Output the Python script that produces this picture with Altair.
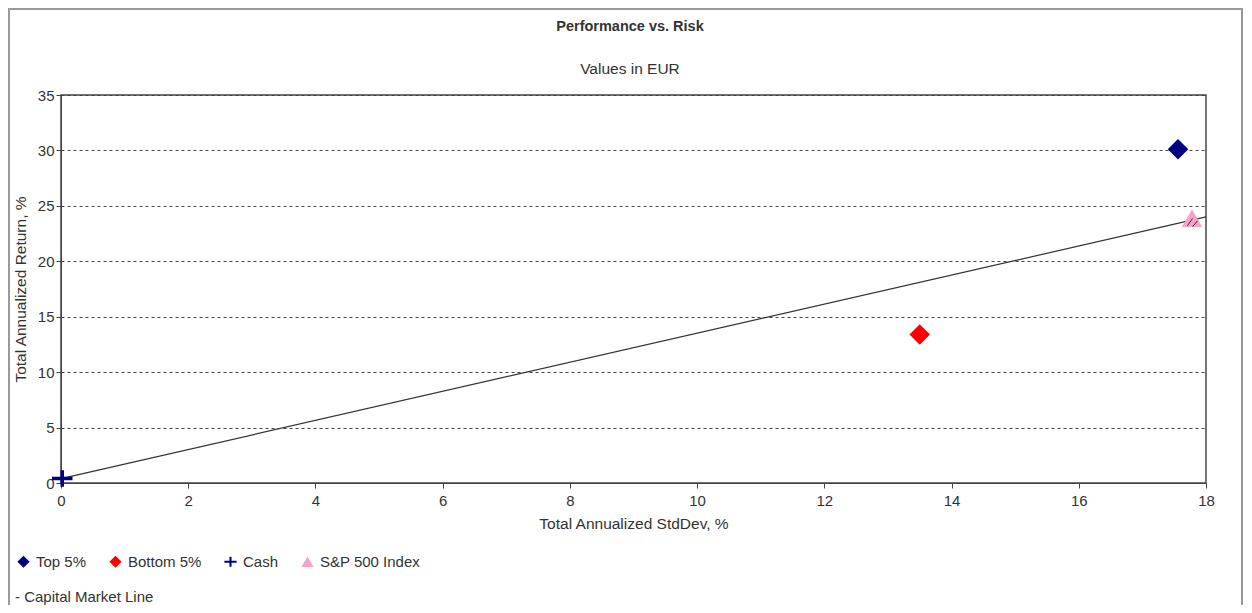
import altair as alt
import pandas as pd

# ---- data ----
series = ["Top 5%", "Bottom 5%", "Cash", "S&P 500 Index"]
stddev = [17.56, 13.5, 0.02, 17.78]
returns = [30.1, 13.4, 0.4, 23.9]

cml_x = [0.0, 18.0]
cml_y = [0.4, 24.0]

chart_title = "Performance vs. Risk"
chart_subtitle = "Values in EUR"
cml_label = "- Capital Market Line"

colors = ["#000080", "#ff0000", "#000080", "#f7a3c9"]
plus_path = "M-1,-0.17H1V0.17H-1Z M-0.17,-0.8H0.17V0.8H-0.17Z"
shapes = ["diamond", "diamond", plus_path, "triangle-up"]

x_ticks = list(range(0, 19, 2))
y_ticks = list(range(0, 36, 5))

FONT = "Liberation Sans"
TXT = "#333333"

pts = pd.DataFrame({"series": series, "sd": stddev, "ret": returns})
cml = pd.DataFrame({"sd": cml_x, "ret": cml_y})

xscale = alt.Scale(domain=[0, 18], nice=False, zero=False)
yscale = alt.Scale(domain=[0, 35], nice=False, zero=False)

xenc = alt.X("sd:Q", scale=xscale, title="Total Annualized StdDev, %",
             axis=alt.Axis(values=x_ticks, format="d", grid=False, tickSize=5, labelPadding=5,
                           labelFlush=False, titlePadding=8, labelFontSize=15,
                           titleFontSize=15.5, labelColor=TXT, titleColor=TXT,
                           titleFontWeight="normal", domainColor="#444444",
                           tickColor="#444444", labelFont=FONT, titleFont=FONT))
yenc = alt.Y("ret:Q", scale=yscale, title="Total Annualized Return, %",
             axis=alt.Axis(values=y_ticks, format="d", grid=True, gridDash=[3, 3],
                           gridColor="#444444", gridOpacity=1, tickSize=5, labelPadding=2,
                           labelFlush=False, titlePadding=9, labelFontSize=15,
                           titleFontSize=15.5, labelColor=TXT, titleColor=TXT,
                           titleFontWeight="normal", domainColor="#444444",
                           tickColor="#444444", labelFont=FONT, titleFont=FONT))

line = alt.Chart(cml).mark_line(color="#333333", strokeWidth=1.2).encode(x=xenc, y=yenc)

color_enc = alt.Color("series:N", scale=alt.Scale(domain=series, range=colors),
                      legend=alt.Legend(title=None, orient="none", legendX=-45, legendY=459,
                                        direction="horizontal", columns=4, columnPadding=21,
                                        symbolSize=150, symbolStrokeWidth=0, labelFontSize=15,
                                        labelColor=TXT, labelFont=FONT, labelOffset=5,
                                        padding=0, symbolOpacity=1))
shape_enc = alt.Shape("series:N", scale=alt.Scale(domain=series, range=shapes), legend=None)

points = alt.Chart(pts).mark_point(filled=True, size=420, opacity=1).encode(
    x="sd:Q", y="ret:Q", color=color_enc, shape=shape_enc)

hatch = alt.Chart(pts[pts["series"] == "S&P 500 Index"]).mark_point(
    filled=False, size=420, shape="M-0.45,0.75L0.05,0.05M0.05,0.85L0.55,0.25",
    stroke="#333333", strokeWidth=1, opacity=1).encode(x="sd:Q", y="ret:Q")

note = alt.Chart(pd.DataFrame({"t": [cml_label]})).mark_text(
    align="left", baseline="middle", fontSize=15, font=FONT, color=TXT).encode(
    text="t:N", x=alt.value(-46), y=alt.value(502))

title_txt = alt.Chart(pd.DataFrame({"t": [chart_title]})).mark_text(
    align="center", baseline="middle", fontSize=14.5, fontWeight="bold", font=FONT,
    color=TXT).encode(text="t:N", x=alt.value(569), y=alt.value(-68))

subtitle_txt = alt.Chart(pd.DataFrame({"t": [chart_subtitle]})).mark_text(
    align="center", baseline="middle", fontSize=15.5, font=FONT, color=TXT).encode(
    text="t:N", x=alt.value(569), y=alt.value(-26))

frame = alt.Chart(pd.DataFrame({"f": [1]})).mark_rect(
    fill=None, stroke="#9a9a9a", strokeWidth=2).encode(
    x=alt.value(-52), x2=alt.value(1181), y=alt.value(-86), y2=alt.value(560))

chart = alt.layer(frame, line, points, hatch, note, title_txt, subtitle_txt).properties(
    width=1145, height=388,
    padding={"left": 53, "top": 87, "right": 38, "bottom": 122},
    autosize=alt.AutoSizeParams(type="none"),
).configure(background="white").configure_view(stroke="#444444", strokeWidth=1.5)

chart.save("out.html", embed_options={"renderer": "svg", "actions": False})
